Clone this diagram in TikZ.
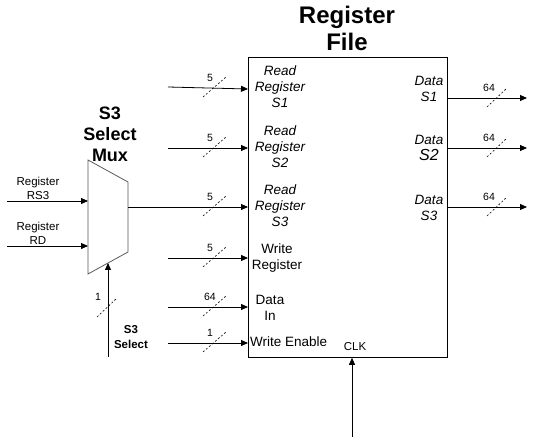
\documentclass[tikz,border=0pt]{standalone}
\usepackage{fontspec}
\setmainfont{Liberation Sans}
\usetikzlibrary{arrows.meta}

\begin{document}
\begin{tikzpicture}[x=1pt, y=-1pt,
    sig/.style={-{Triangle[length=7pt,width=6pt]}, line width=0.8pt},
    busmark/.style={dash pattern=on 2pt off 2pt, line width=0.6pt},
    buswidth/.style={inner sep=0pt, font=\fontsize{10.5}{12}\selectfont},
    port/.style={inner sep=0pt, align=center, font=\fontsize{13.5}{16}\selectfont\itshape},
    plainport/.style={inner sep=0pt, align=center, font=\fontsize{13.5}{16}\selectfont},
    smalllabel/.style={inner sep=0pt, align=center, font=\fontsize{11.5}{14}\selectfont}]

    \useasboundingbox (0,0) rectangle (536,446);

    % Title
    \node[inner sep=0pt, align=center, font=\fontsize{24}{27}\selectfont\bfseries] (title) at (347,28) {Register\\File};

    % Register file block
    \node[draw, line width=0.8pt, minimum width=199pt, minimum height=300pt, inner sep=0pt, anchor=north west] (rf) at (248,57) {};

    % Port labels inside the block
    \node[port] (rr1) at (280,87) {Read\\Register\\S1};
    \node[port] (rr2) at (280,147) {Read\\Register\\S2};
    \node[port] (rr3) at (280,206) {Read\\Register\\S3};
    \node[plainport] (wr) at (277,258) {Write\\Register};
    \node[plainport] (din) at (270,308) {Data\\In};
    \node[plainport, anchor=west] (we) at (250,342) {Write Enable};
    \node[smalllabel] (clk) at (355,347) {CLK};
    \node[port] (d1) at (429,89) {Data\\S1};
    \node[port] (d2) at (429,148) {Data\\{\fontsize{16}{16}\selectfont S2}};
    \node[port] (d3) at (429,208) {Data\\S3};

    % S3 select mux
    \coordinate (mtl) at (88,160);
    \coordinate (mtr) at (128,182);
    \coordinate (mbr) at (128,252);
    \coordinate (mbl) at (88,274);
    \draw[line width=0.8pt, draw=black!65] (mtl) -- (mtr) -- (mbr) -- (mbl) -- cycle;
    \node[inner sep=0pt, align=center, font=\fontsize{18}{21}\selectfont\bfseries] (muxlabel) at (110,134) {S3\\Select\\Mux};
    \coordinate (mout) at (128,207);
    \coordinate (msel) at (108,263);

    % Mux inputs
    \coordinate (rs3) at (7,201);
    \coordinate (rd) at (7,246);
    \draw[sig] (rs3) -- (rs3 -| mtl);
    \draw[sig] (rd) -- (rd -| mtl);
    \node[smalllabel] (rs3lab) at (38,188) {Register\\RS3};
    \node[smalllabel] (rdlab) at (38,233) {Register\\RD};

    % Mux select
    \coordinate (sel) at (108,357);
    \draw[sig] (sel) -- (msel);
    \draw[busmark] (97,317) -- (117,298);
    \node[buswidth] (selw) at (98,297) {1};
    \node[inner sep=0pt, align=center, font=\fontsize{11.5}{15}\selectfont\bfseries] (sellab) at (131,337) {S3\\Select};

    % Inputs to the register file
    \coordinate (in1) at (168,87);
    \coordinate (in2) at (168,148);
    \coordinate (in4) at (168,258);
    \coordinate (in5) at (168,307);
    \coordinate (in6) at (168,343);
    \draw[sig] (in1) -- (248,89);
    \draw[sig] (in2) -- (in2 -| rf.west);
    \draw[sig] (mout) -- (mout -| rf.west);
    \draw[sig] (in4) -- (in4 -| rf.west);
    \draw[sig] (in5) -- (in5 -| rf.west);
    \draw[sig] (in6) -- (in6 -| rf.west);

    % Bus widths on the inputs
    \foreach \y/\w in {88/5, 148/5, 207/5, 258/5, 307/64, 343/1} {
        \draw[busmark] (203,\y+9) -- (226,\y-11);
        \node[buswidth] at (210,\y-10) {\w};
    }

    % Outputs
    \coordinate (out1) at (527,98);
    \coordinate (out2) at (527,148);
    \coordinate (out3) at (527,207);
    \draw[sig] (out1 -| rf.east) -- (out1);
    \draw[sig] (out2 -| rf.east) -- (out2);
    \draw[sig] (out3 -| rf.east) -- (out3);
    \foreach \y in {98, 148, 207} {
        \draw[busmark] (487,\y+9) -- (507,\y-10);
        \node[buswidth] at (489,\y-10) {64};
    }

    % Clock
    \coordinate (clkin) at (352,437);
    \draw[sig] (clkin) -- (clkin |- rf.south);
\end{tikzpicture}
\end{document}
